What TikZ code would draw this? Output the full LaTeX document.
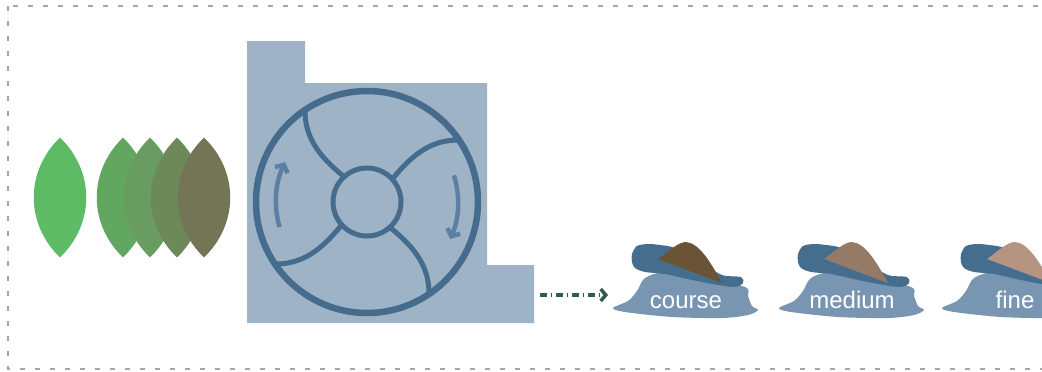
\documentclass[tikz,border=0pt]{standalone}
\usepackage{fontspec}
\setsansfont{Liberation Sans}
\usetikzlibrary{arrows.meta}

\definecolor{framegray}{HTML}{A6A6A8}
\definecolor{leafA}{HTML}{5CBB64}
\definecolor{leafB}{HTML}{62A760}
\definecolor{leafC}{HTML}{699C61}
\definecolor{leafD}{HTML}{6D8859}
\definecolor{leafE}{HTML}{737555}
\definecolor{millbg}{HTML}{9FB3C7}
\definecolor{millline}{HTML}{456C8D}
\definecolor{spin}{HTML}{5B80A3}
\definecolor{flow}{HTML}{2F5F4C}
\definecolor{pilebase}{HTML}{7896B2}
\definecolor{pilecap}{HTML}{456D8E}
\definecolor{grainC}{HTML}{6B5436}
\definecolor{grainM}{HTML}{957A66}
\definecolor{grainF}{HTML}{B59582}

\tikzset{
  frame/.style={draw=framegray, line width=2.5pt, dash pattern=on 5pt off 10pt},
  leaf/.pic={\fill[pic actions] (0,-60) .. controls (35,-26) and (35,26) .. (0,60)
                               .. controls (-35,26) and (-35,-26) .. (0,-60) -- cycle;},
  millstroke/.style={draw=millline, line width=5pt},
  spinarrow/.style={draw=spin, line width=4.5pt, -{Straight Barb[length=6pt,width=14pt]}},
  flowarrow/.style={draw=flow, line width=3.2pt, dash pattern=on 7pt off 4pt on 1pt off 4pt,
                    -{Straight Barb[length=5pt,width=12pt,line width=3.5pt]}},
  pilelabel/.style={text=white, font=\sffamily\fontsize{24}{28}\selectfont, anchor=base, inner sep=0pt}
}

\begin{document}
\begin{tikzpicture}[x=1pt,y=-1pt]
\useasboundingbox (0,0) rectangle (1042,372);
\clip (0,0) rectangle (1042,372);

% outer dashed frame
\draw[frame] (8,6) rectangle (1075,369);

% leaves, fresh to dried
\pic[fill=leafA] at (60,197.5) {leaf};
\pic[fill=leafB] at (123,197.5) {leaf};
\pic[fill=leafC] at (150,197.5) {leaf};
\pic[fill=leafD] at (177,197.5) {leaf};
\pic[fill=leafE] at (204,197.5) {leaf};

% grinder housing
\fill[millbg] (247,41) -- (305,41) -- (305,83) -- (487,83) -- (487,265)
  -- (534,265) -- (534,323) -- (247,323) -- cycle;

% rotor
\begin{scope}[shift={(367,202)}, y=1pt]
  \draw[millline, line width=6.5pt] (0,0) circle[radius=111];
  \draw[millstroke] (0,0) circle[radius=34];
  \foreach \r in {0,-90,-180,-270}
    \draw[millstroke, rotate=\r] (132:34) .. controls (-50,47) and (-62,66) .. (124:111);
  \draw[spinarrow] (196:91) arc[start angle=196, end angle=154, radius=91];
  \draw[spinarrow] (17:91) arc[start angle=17, end angle=-24, radius=91];
\end{scope}

% output arrow
\coordinate (out) at (540,295);
\coordinate (in) at (608,295);
\draw[flowarrow] (out) -- (in);

% ground piles
\foreach \dx/\grain/\name in {0/grainC/course, 166/grainM/medium, 329/grainF/fine}{
  \begin{scope}[xshift=\dx]
    \fill[pilebase] plot[smooth cycle, tension=0.5] coordinates {
      (613,308) (628,301) (637,291) (645,278) (665,272) (700,276) (745,287)
      (748,296) (752,306) (758,310) (748,315) (722,318) (672,317) (625,312)};
    \fill[pilecap] plot[smooth cycle, tension=0.5] coordinates {
      (637,246) (632,254) (632,262) (635,268) (645,272) (665,274) (692,280)
      (718,285) (735,287) (743,283) (741,277) (722,275) (700,262) (675,248)
      (660,245) (648,244)};
    \fill[\grain] (658,259) .. controls (668,252) and (678,242) .. (686,242)
      .. controls (700,243) and (712,265) .. (722,283) -- cycle;
    \node[pilelabel] (\name) at (686,308) {\name};
  \end{scope}
}
\end{tikzpicture}
\end{document}
